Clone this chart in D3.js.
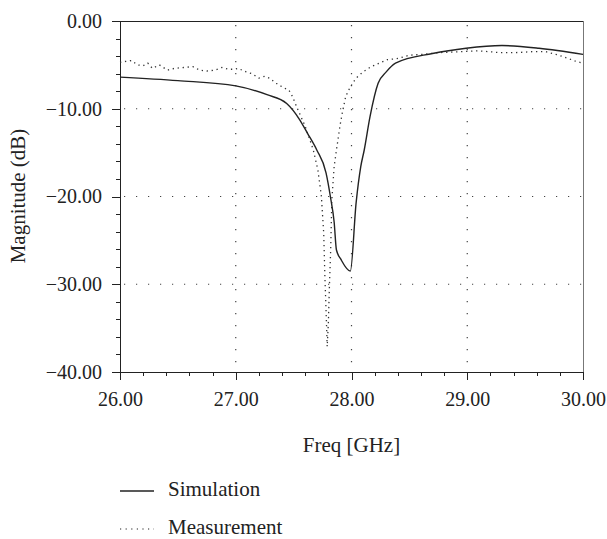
<!DOCTYPE html>
<html lang="en">
<head>
    <meta charset="UTF-8">
    <title>Magnitude vs Freq</title>
    <script src="https://cdn.jsdelivr.net/npm/d3@7"></script>
</head>
<body>
<style>
    body {
        margin: 0;
        background-color: white;
    }
    svg {
        width: 607px;
        height: 539px;
        display: block;
    }
    svg text {
        font-family: "Liberation Serif", "DejaVu Serif", serif;
        fill: #222;
    }
    .axis text {
        font-size: 20px;
    }
    .axis path,
    .axis line {
        stroke: #222;
        shape-rendering: crispEdges;
    }
    .grid {
        stroke: #444;
        stroke-width: 1.2;
        stroke-dasharray: 1.2, 10.8;
    }
</style>

<svg></svg>

<script>
    // simulation (solid)
    var simFreq = [26.00, 26.50, 27.00, 27.27, 27.44, 27.55, 27.62, 27.70, 27.78, 27.82, 27.85, 27.87, 27.91, 27.99,
        28.04, 28.08, 28.11, 28.16, 28.23, 28.30, 28.38, 28.70, 28.99, 29.30, 29.62, 30.00];
    var simMag = [-6.4, -6.8, -7.4, -8.4, -9.4, -11.2, -12.8, -14.7, -17.3, -20.2, -22.9, -26.1, -27.2, -28.5,
        -20.7, -16.6, -14.7, -10.9, -7.1, -5.8, -4.8, -3.7, -3.1, -2.8, -3.1, -3.8];

    // measurement (dotted)
    var measFreq = [26.00, 26.05, 26.10, 26.15, 26.20, 26.24, 26.28, 26.34, 26.41, 26.47, 26.55, 26.63, 26.69, 26.75,
        26.82, 26.88, 26.94, 26.99, 27.02, 27.09, 27.14, 27.20, 27.25, 27.29, 27.35, 27.40, 27.46, 27.49, 27.53,
        27.60, 27.67, 27.71, 27.74, 27.76, 27.77, 27.78, 27.79, 27.80, 27.81, 27.82, 27.83, 27.85, 27.87, 27.90,
        27.92, 27.95, 27.99, 28.04, 28.10, 28.17, 28.24, 28.31, 28.39, 28.50, 28.61, 28.76, 28.93, 29.10, 29.28,
        29.42, 29.56, 29.68, 29.79, 29.88, 29.94, 30.00];
    var measMag = [-4.7, -4.6, -4.5, -5.0, -5.1, -4.8, -5.4, -5.0, -5.6, -5.4, -5.3, -5.2, -5.6, -5.7,
        -5.6, -5.3, -5.5, -5.5, -5.4, -5.8, -6.0, -6.5, -6.3, -6.5, -7.1, -7.5, -7.9, -8.6, -9.9,
        -12.0, -14.7, -17.0, -20.0, -24.2, -29.1, -32.9, -37.1, -34.5, -29.9, -26.1, -20.4, -16.6, -14.7, -12.0,
        -10.5, -8.6, -7.5, -6.5, -5.8, -5.2, -4.8, -4.4, -4.3, -3.9, -3.8, -3.6, -3.5, -3.4, -3.6,
        -3.6, -3.5, -3.5, -3.9, -4.3, -4.6, -4.8];

    var xTicks = [26, 27, 28, 29, 30];
    var yTicks = [0, -10, -20, -30, -40];
    var xGrid = [27, 28, 29];
    var yGrid = [-10, -20, -30];
    var seriesNames = ["Simulation", "Measurement"];

    var svg = d3.select("svg");
    var plotLeft = 120, plotTop = 21, plotRight = 583, plotBottom = 372;

    var getX = d3.scaleLinear()
            .domain([26, 30])
            .range([plotLeft, plotRight]);
    var getY = d3.scaleLinear()
            .domain([-40, 0])
            .range([plotBottom, plotTop]);

    // grid
    svg.selectAll(".vgrid")
            .data(xGrid)
            .enter()
            .append("line")
            .attr("class", "grid")
            .attr("x1", function (d) { return getX(d); })
            .attr("x2", function (d) { return getX(d); })
            .attr("y1", plotTop + 4)
            .attr("y2", plotBottom);
    svg.selectAll(".hgrid")
            .data(yGrid)
            .enter()
            .append("line")
            .attr("class", "grid")
            .attr("x1", plotLeft + 4)
            .attr("x2", plotRight)
            .attr("y1", function (d) { return getY(d); })
            .attr("y2", function (d) { return getY(d); });

    // frame top and right
    svg.append("line")
            .attr("x1", plotLeft).attr("x2", plotRight)
            .attr("y1", plotTop).attr("y2", plotTop)
            .attr("stroke", "#222")
            .attr("shape-rendering", "crispEdges");
    svg.append("line")
            .attr("x1", plotRight).attr("x2", plotRight)
            .attr("y1", plotTop).attr("y2", plotBottom)
            .attr("stroke", "#777")
            .attr("shape-rendering", "crispEdges");

    // minor ticks
    var axisXMinor = d3.axisBottom(getX)
            .tickValues(d3.range(26, 30.01, 0.2))
            .tickSize(4)
            .tickFormat("");
    var axisYMinor = d3.axisLeft(getY)
            .tickValues(d3.range(-40, 0.01, 2))
            .tickSize(4)
            .tickFormat("");
    svg.append("g")
            .attr("class", "axis")
            .attr("transform", "translate(0," + plotBottom + ")")
            .call(axisXMinor);
    svg.append("g")
            .attr("class", "axis")
            .attr("transform", "translate(" + plotLeft + ",0)")
            .call(axisYMinor);

    // major ticks
    var axisX = d3.axisBottom(getX)
            .tickValues(xTicks)
            .tickSize(8)
            .tickPadding(12)
            .tickFormat(d3.format(".2f"));
    var axisY = d3.axisLeft(getY)
            .tickValues(yTicks)
            .tickSize(8)
            .tickPadding(10)
            .tickFormat(function (d) { return d3.format(".2f")(d).replace("-", "\u2212"); });
    svg.append("g")
            .attr("class", "axis")
            .attr("transform", "translate(0," + plotBottom + ")")
            .call(axisX);
    svg.append("g")
            .attr("class", "axis")
            .attr("transform", "translate(" + plotLeft + ",0)")
            .call(axisY);

    // curves
    var simData = simFreq.map(function (f, i) { return [f, simMag[i]]; });
    var measData = measFreq.map(function (f, i) { return [f, measMag[i]]; });

    var simLine = d3.line()
            .x(function (d) { return getX(d[0]); })
            .y(function (d) { return getY(d[1]); })
            .curve(d3.curveMonotoneX);
    var measLine = d3.line()
            .x(function (d) { return getX(d[0]); })
            .y(function (d) { return getY(d[1]); });

    svg.append("path")
            .datum(measData)
            .attr("d", measLine)
            .attr("fill", "none")
            .attr("stroke", "#333")
            .attr("stroke-width", 1.3)
            .attr("stroke-dasharray", "1.3,3.7");
    svg.append("path")
            .datum(simData)
            .attr("d", simLine)
            .attr("fill", "none")
            .attr("stroke", "#222")
            .attr("stroke-width", 1.4);

    // axis labels
    svg.append("text")
            .text("Freq [GHz]")
            .attr("x", (plotLeft + plotRight) / 2)
            .attr("y", 452)
            .attr("text-anchor", "middle")
            .style("font-size", "21px");
    svg.append("text")
            .text("Magnitude (dB)")
            .attr("transform", "translate(25,196) rotate(-90)")
            .attr("text-anchor", "middle")
            .style("font-size", "21px");

    // legend
    var legend = svg.selectAll(".legend")
            .data(seriesNames)
            .enter()
            .append("g")
            .attr("transform", function (d, i) { return "translate(120," + (491 + i * 38) + ")"; });
    legend.append("line")
            .attr("x1", 0).attr("x2", 34)
            .attr("y1", 0).attr("y2", 0)
            .attr("stroke", "#222")
            .attr("stroke-width", function (d, i) { return i == 0 ? 1.4 : 1.2; })
            .attr("stroke-dasharray", function (d, i) { return i == 0 ? null : "1.2,4.4"; });
    legend.append("text")
            .text(function (d) { return d; })
            .attr("x", 48)
            .attr("y", 5)
            .style("font-size", "21px");
</script>
</body>
</html>
